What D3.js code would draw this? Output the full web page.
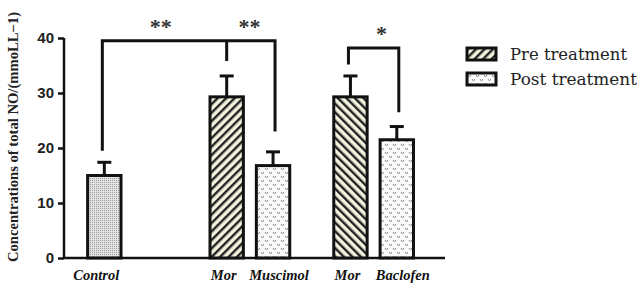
<!DOCTYPE html>
<html>
<head>
<meta charset="utf-8">
<script src="https://cdn.jsdelivr.net/npm/d3@7"></script>
<style>
  body { margin: 0; background: #fff; }
  svg { display: block; }
  .serif1 { font-family: "Liberation Serif", serif; }
  .serif2 { font-family: "DejaVu Serif", serif; }
</style>
</head>
<body>
<div id="chart"></div>
<script>
// data
var groups = ["Control", "Mor", "Muscimol", "Mor", "Baclofen"];
var slots = [0, 2.64, 3.64, 5.31, 6.31];          // horizontal slot of each bar
var kinds = ["control", "pre", "post", "pre2", "post"];
var means = [15, 29.3, 16.8, 29.3, 21.5];
var errs = [2.4, 3.8, 2.5, 3.8, 2.4];
var yTicks = [0, 10, 20, 30, 40];
var legendLabels = ["Pre treatment", "Post treatment"];
// significance brackets and stars
var brackets = [
    { a: 0, b: 2, level: 39.5, mid: 1, midLevel: 35.8, aEnd: 19.5, bEnd: 23 },
    { a: 3, b: 4, level: 38.2, mid: -1, aEnd: 35.2, bEnd: 26.5 }
];
var stars = [
    { pos: 1.22, level: 40.7, txt: "**" },
    { pos: 3.13, level: 40.7, txt: "**" },
    { pos: 5.98, level: 39.5, txt: "*" }
];

var margin = { top: 38, right: 192, bottom: 25, left: 64 },
    width = 637 - margin.left - margin.right,
    height = 283 - margin.top - margin.bottom;

var svg = d3.select("#chart").append("svg")
    .attr("width", 637)
    .attr("height", 283);

// patterns
var defs = svg.append("defs");
var pc = defs.append("pattern").attr("id", "p_control")
    .attr("patternUnits", "userSpaceOnUse").attr("width", 2).attr("height", 2);
pc.append("rect").attr("width", 2).attr("height", 2).attr("fill", "#e4e4e4");
pc.append("rect").attr("width", 1).attr("height", 1).attr("fill", "#9a9a9a");

function hatch(id, dir) {
    var p = defs.append("pattern").attr("id", id)
        .attr("patternUnits", "userSpaceOnUse").attr("width", 6).attr("height", 6)
        .attr("patternTransform", "rotate(" + dir + ")");
    p.append("rect").attr("width", 6).attr("height", 6).attr("fill", "#f3f2dc");
    p.append("rect").attr("width", 2.4).attr("height", 6).attr("fill", "#222");
}
hatch("p_pre", 45);
hatch("p_pre2", -45);

var pp = defs.append("pattern").attr("id", "p_post")
    .attr("patternUnits", "userSpaceOnUse").attr("width", 8).attr("height", 8);
pp.append("rect").attr("width", 8).attr("height", 8).attr("fill", "#fbfbfb");
pp.append("path").attr("d", "M1,2 L2.5,4 L4,2").attr("fill", "none")
    .attr("stroke", "#8a8a8a").attr("stroke-width", 1);
pp.append("path").attr("d", "M5,6 L6.5,8 L8,6").attr("fill", "none")
    .attr("stroke", "#8a8a8a").attr("stroke-width", 1);

var g = svg.append("g")
    .attr("transform", "translate(" + margin.left + "," + margin.top + ")");

var x = d3.scaleLinear()
    .domain([-0.87, 7.35])
    .range([0, 381]);
var y = d3.scaleLinear()
    .domain([0, 40])
    .range([height, 0]);
var bw = x(0.72) - x(0);

// axes
var yAxis = d3.axisLeft(y).tickValues(yTicks).tickSize(6).tickPadding(4);
var ya = g.append("g").attr("class", "y axis").call(yAxis);
ya.select(".domain").attr("stroke", "#111").attr("stroke-width", 2.5)
    .attr("d", "M0," + y(40) + "V" + y(0));
ya.selectAll(".tick line").attr("stroke", "#111").attr("stroke-width", 2.5);
ya.selectAll(".tick text")
    .attr("font-family", "Liberation Sans, Arial, sans-serif")
    .attr("font-weight", "bold").attr("font-size", 15).attr("fill", "#222");

g.append("line")
    .attr("x1", 0).attr("x2", x(7.35))
    .attr("y1", y(0)).attr("y2", y(0))
    .attr("stroke", "#111").attr("stroke-width", 2.5);

// error bars
var bars = g.selectAll(".bar-g").data(means).enter().append("g").attr("class", "bar-g");
bars.append("line")
    .attr("x1", function (d, i) { return x(slots[i]); })
    .attr("x2", function (d, i) { return x(slots[i]); })
    .attr("y1", function (d) { return y(d); })
    .attr("y2", function (d, i) { return y(d + errs[i]); })
    .attr("stroke", "#111").attr("stroke-width", 3);
bars.append("line")
    .attr("x1", function (d, i) { return x(slots[i]) - 7; })
    .attr("x2", function (d, i) { return x(slots[i]) + 7; })
    .attr("y1", function (d, i) { return y(d + errs[i]); })
    .attr("y2", function (d, i) { return y(d + errs[i]); })
    .attr("stroke", "#111").attr("stroke-width", 3);

// bars
bars.append("rect")
    .attr("x", function (d, i) { return x(slots[i]) - bw / 2; })
    .attr("width", bw)
    .attr("y", function (d) { return y(d); })
    .attr("height", function (d) { return y(0) - y(d); })
    .attr("fill", function (d, i) { return "url(#p_" + kinds[i] + ")"; })
    .attr("stroke", "#111").attr("stroke-width", 3);

// significance brackets
brackets.forEach(function (b) {
    var xa = x(slots[b.a]) - 2, xb = x(slots[b.b]) + 2;
    var path = "M" + xa + "," + y(b.aEnd) + "V" + y(b.level) + "H" + xb + "V" + y(b.bEnd);
    if (b.mid >= 0) {
        path += "M" + x(slots[b.mid]) + "," + y(b.level) + "V" + y(b.midLevel);
    }
    g.append("path").attr("d", path).attr("fill", "none")
        .attr("stroke", "#111").attr("stroke-width", 3);
});
g.selectAll(".star").data(stars).enter().append("text")
    .attr("class", "star serif1")
    .attr("x", function (d) { return x(d.pos); })
    .attr("y", function (d) { return y(d.level); })
    .attr("text-anchor", "middle")
    .attr("font-size", 22).attr("font-weight", "bold")
    .attr("fill", "#333")
    .text(function (d) { return d.txt; });

// category labels (post-treatment labels sit a little to the right)
g.selectAll(".cat").data(groups).enter().append("text")
    .attr("class", "cat serif1")
    .attr("x", function (d, i) { return x(slots[i]) + (kinds[i] === "post" ? 6 : (kinds[i] === "control" ? -8 : -3)); })
    .attr("y", height + 22)
    .attr("text-anchor", "middle")
    .attr("font-style", "italic").attr("font-weight", "bold")
    .attr("font-size", 14.5).attr("fill", "#111")
    .text(function (d) { return d; });

// y title
svg.append("text")
    .attr("class", "serif1")
    .attr("transform", "translate(18," + 137 + ") rotate(-90)")
    .attr("text-anchor", "middle")
    .attr("textLength", 250)
    .attr("lengthAdjust", "spacingAndGlyphs")
    .attr("font-weight", "bold").attr("font-size", 14)
    .attr("fill", "#222")
    .text("Concentrations of total NO/(mmoLL\u22121)");

// legend
var legend = svg.append("g").attr("transform", "translate(467,48)");
var li = legend.selectAll(".li").data(legendLabels).enter().append("g")
    .attr("transform", function (d, i) { return "translate(0," + i * 25 + ")"; });
li.append("rect").attr("width", 29).attr("height", 12)
    .attr("fill", function (d, i) { return i === 0 ? "url(#p_pre)" : "url(#p_post)"; })
    .attr("stroke", "#111").attr("stroke-width", 3);
li.append("text").attr("class", "serif2").attr("x", 43).attr("y", 12)
    .attr("textLength", function (d, i) { return i === 0 ? 117 : 127; })
    .attr("lengthAdjust", "spacingAndGlyphs")
    .attr("font-size", 16).attr("fill", "#222")
    .text(function (d) { return d; });
</script>
</body>
</html>
